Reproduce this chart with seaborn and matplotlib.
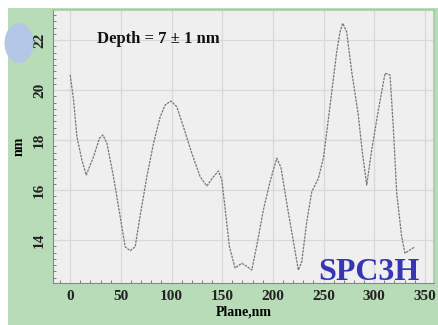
import matplotlib
matplotlib.use("Agg")
import matplotlib.pyplot as plt
from matplotlib.patches import Rectangle, Ellipse
from matplotlib.ticker import MultipleLocator
import seaborn as sns
import pandas as pd

# Surface profile along the scan line
plane_nm = [0, 3.3, 6.6, 11.5, 15.8, 23, 28.9, 32.2, 36.2, 42.7, 49.3, 54.2, 59.2,
            64.1, 68.3, 75.6, 82.2, 88.8, 93.7, 99.3, 105.2, 111.7, 120, 128.2, 134.8,
            141.3, 146.3, 149.6, 153.8, 157.1, 162.7, 169.3, 174, 179.2, 184.7, 190.6,
            197, 203.8, 208, 213.7, 220, 225.1, 228.5, 233.4, 238.4, 244.9, 249.8,
            253.2, 258.1, 263, 266.3, 268.9, 272.8, 277.8, 284.3, 288, 292.6, 297.5,
            304.1, 310.7, 315.6, 318.8, 322.2, 327.1, 330.4, 335.3, 340.2]
height_nm = [20.6, 19.6, 18.13, 17.2, 16.6, 17.33, 18.07, 18.2, 17.87, 16.53,
             14.93, 13.73, 13.57, 13.73, 14.8, 16.53, 17.87, 18.93, 19.4, 19.56, 19.33,
             18.53, 17.47, 16.53, 16.16, 16.53, 16.76, 16.4, 14.93, 13.73, 12.88, 13.07,
             12.95, 12.8, 13.9, 15.2, 16.3, 17.27, 16.9, 15.47, 14.0, 12.8, 13.13, 14.73,
             15.93, 16.47, 17.27, 18.33, 19.93, 21.53, 22.33, 22.67, 22.33, 20.73, 19.0,
             17.6, 16.2, 17.6, 19.2, 20.67, 20.6, 18.53, 15.87, 14.13, 13.47, 13.6, 13.73]

x_ticks = [0, 50, 100, 150, 200, 250, 300, 350]
y_ticks = [14, 16, 18, 20, 22]

df = pd.DataFrame({"plane": plane_nm, "height": height_nm})

W, H = 438, 325
fig = plt.figure(figsize=(W / 100, H / 100), dpi=100)
fig.patch.set_facecolor("white")

# green panel behind the axes
fig.patches.append(Rectangle((8 / W, 0), 1 - 8 / W, 1 - 8 / H, transform=fig.transFigure,
                             facecolor="#b8dcb8", edgecolor="none", zorder=-10))

ax = fig.add_axes([53 / W, 42 / H, 381 / W, 273 / H])
ax.set_zorder(1)
ax.set_facecolor("#efefef")

sns.lineplot(data=df, x="plane", y="height", ax=ax, color="#777777",
             linewidth=0.9, linestyle=(0, (2.0, 0.8)), sort=False)

ax.set_xlim(-17, 359)
ax.set_ylim(12.28, 23.2)
ax.set_xticks(x_ticks)
ax.set_yticks(y_ticks)
ax.xaxis.set_minor_locator(MultipleLocator(10))
ax.yaxis.set_minor_locator(MultipleLocator(0.25))
ax.grid(True, which="major", color="#d8d8d8", linewidth=0.9)
ax.set_axisbelow(True)

serif = ["Liberation Serif", "DejaVu Serif"]
for lab in ax.get_xticklabels():
    lab.set_fontfamily(serif); lab.set_fontweight("bold"); lab.set_fontsize(11)
for lab in ax.get_yticklabels():
    lab.set_fontfamily(serif); lab.set_fontweight("bold"); lab.set_fontsize(11)
    lab.set_rotation(90); lab.set_va("center")
ax.tick_params(axis="both", which="major", length=0, pad=5, colors="#222222")
ax.tick_params(axis="both", which="minor", direction="in", length=2, width=0.6, color="#666666")

for side in ["left", "bottom"]:
    ax.spines[side].set_color("#888888")
    ax.spines[side].set_linewidth(0.8)
for side in ["top", "right"]:
    ax.spines[side].set_color("#a4cca4")
    ax.spines[side].set_linewidth(1.2)

ax.set_xlabel("Plane,nm", fontfamily=serif, fontweight="bold", fontsize=10, labelpad=2)
ax.set_ylabel("nm", fontfamily=serif, fontweight="bold", fontsize=10, labelpad=5)

ax.text(0.115, 0.895, "Depth = 7 \u00b1 1 nm", transform=ax.transAxes, ha="left", va="center",
        fontfamily=serif, fontweight="bold", fontsize=12, color="#111111")
ax.text(0.962, 0.012, "SPC3H", transform=ax.transAxes, ha="right", va="baseline",
        fontfamily=serif, fontweight="bold", fontsize=23, color="#3535b5")

fig.patches.append(Ellipse((19 / W, 1 - 43 / H), 29 / W, 40 / H, transform=fig.transFigure,
                           facecolor="#b4c7e7", edgecolor="none", zorder=5))

fig.savefig("out.png", dpi=100)
